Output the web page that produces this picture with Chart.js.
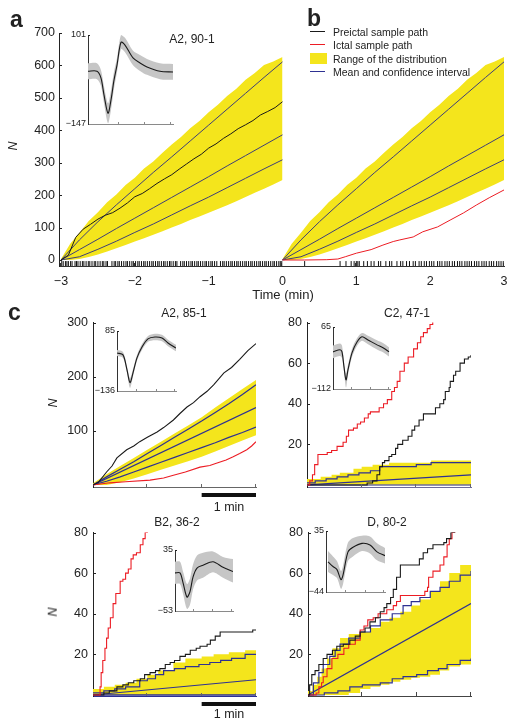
<!DOCTYPE html>
<html><head><meta charset="utf-8">
<script src="https://cdn.jsdelivr.net/npm/chart.js@4.4.1/dist/chart.umd.min.js"></script>
<style>
html,body{margin:0;padding:0;background:#fff;}
body{width:516px;height:726px;position:relative;overflow:hidden;font-family:"Liberation Sans",Arial,sans-serif;color:#222;}
canvas{position:absolute;}
.t{position:absolute;white-space:nowrap;line-height:1;transform:translate(-50%,-50%);z-index:20;}
.lt{position:absolute;white-space:nowrap;line-height:1;transform:translateY(-50%);z-index:20;font-size:10.5px;}
.sw{position:absolute;z-index:20;}
.pl{position:absolute;font-weight:bold;font-size:23px;line-height:1;z-index:20;}
</style></head><body>

<div class="pl" style="left:10px;top:8px">a</div>
<div class="pl" style="left:307px;top:7px">b</div>
<div class="pl" style="left:8px;top:301px">c</div>

<div class="t" style="left:192px;top:39px;font-size:12px">A2, 90-1</div>
<div class="t" style="left:13px;top:146px;font-size:12.5px;font-style:italic;transform:translate(-50%,-50%) rotate(-90deg)">N</div>
<div class="t" style="left:283px;top:294px;font-size:13px">Time (min)</div>

<div class="sw" style="left:310px;top:31px;width:15px;height:1.3px;background:#1a1a1a"></div>
<div class="lt" style="left:333px;top:32px">Preictal sample path</div>
<div class="sw" style="left:310px;top:43.5px;width:15px;height:1.3px;background:#ec1c24"></div>
<div class="lt" style="left:333px;top:44.5px">Ictal sample path</div>
<div class="sw" style="left:310px;top:53px;width:17px;height:11px;background:#f4e51c"></div>
<div class="lt" style="left:333px;top:58.5px">Range of the distribution</div>
<div class="sw" style="left:310px;top:71px;width:15px;height:1.3px;background:#2e3192"></div>
<div class="lt" style="left:333px;top:72px">Mean and confidence interval</div>

<div class="t" style="left:184px;top:313px;font-size:12px">A2, 85-1</div>
<div class="t" style="left:407px;top:313px;font-size:12px">C2, 47-1</div>
<div class="t" style="left:177px;top:522px;font-size:12px">B2, 36-2</div>
<div class="t" style="left:387px;top:522px;font-size:12px">D, 80-2</div>
<div class="t" style="left:53px;top:403px;font-size:12.5px;font-style:italic;transform:translate(-50%,-50%) rotate(-90deg)">N</div>
<div class="t" style="left:53px;top:612px;font-size:12.5px;font-style:italic;transform:translate(-50%,-50%) rotate(-90deg)">N</div>
<div class="t" style="left:229px;top:507px;font-size:12.5px">1 min</div>
<div class="t" style="left:229px;top:714px;font-size:12.5px">1 min</div>

<script>
// ---------------- DATA ----------------
// Panels a/b : spike counts N vs time (min)
const xTicksAB = [-3, -2, -1, 0, 1, 2, 3];
const yTicksA = [0, 100, 200, 300, 400, 500, 600, 700];
// distribution (same for a and b), time since segment start (min)
const distT = [0, 0.25, 0.5, 0.75, 1, 1.25, 1.5, 1.75, 2, 2.25, 2.5, 2.75, 3];
const distUpper = [0, 62, 118, 170, 220, 270, 318, 367, 416, 465, 514, 563, 611];
const distMean = [0, 32, 64, 97, 129, 161, 193, 225, 257, 290, 322, 354, 386];
const distLower = [0, 10, 33, 58, 85, 111, 139, 167, 194, 223, 252, 281, 309];
const bandT = [0, 0.125, 0.25, 0.375, 0.5, 0.625, 0.75, 0.875, 1, 1.125, 1.25, 1.375, 1.5, 1.625, 1.75, 1.875, 2, 2.125, 2.25, 2.375, 2.5, 2.625, 2.75, 2.875, 3];
const bandTop = [3, 50, 84, 120, 147, 178, 202, 231, 254, 282, 304, 331, 356, 379, 406, 429, 456, 479, 506, 528, 556, 577, 601, 612, 626];
const bandBottom = [0, 0, 3, 9, 17, 26, 36, 46, 57, 67, 78, 89, 100, 111, 123, 134, 146, 157, 169, 181, 194, 207, 220, 233, 247];
// panel a preictal sample path
const preT = [-3, -2.9, -2.8, -2.7, -2.6, -2.5, -2.4, -2.3, -2.2, -2.1, -2.0, -1.9, -1.8, -1.7, -1.6, -1.5, -1.4, -1.3, -1.2, -1.1, -1.0, -0.9, -0.8, -0.7, -0.6, -0.5, -0.4, -0.3, -0.2, -0.1, 0];
const preN = [0, 15, 70, 95, 110, 126, 138, 146, 160, 176, 195, 205, 220, 236, 250, 263, 280, 296, 312, 326, 345, 358, 375, 389, 405, 417, 430, 447, 458, 470, 488];
// panel b ictal sample path
const ictT = [0, 0.3, 0.6, 0.75, 0.85, 1.0, 1.2, 1.36, 1.5, 1.59, 1.77, 1.9, 2.1, 2.27, 2.45, 2.63, 2.8, 3.0];
const ictN = [0, 0, 1, 3, 10, 21, 32, 46, 57, 62, 71, 87, 102, 123, 145, 170, 192, 216];
// spike raster (min)
const spikesPre = [-2.99,-2.97,-2.94,-2.92,-2.9,-2.87,-2.85,-2.81,-2.79,-2.77,-2.74,-2.71,-2.69,-2.66,-2.63,-2.61,-2.58,-2.55,-2.53,-2.5,-2.47,-2.44,-2.42,-2.39,-2.37,-2.31,-2.28,-2.26,-2.23,-2.21,-2.18,-2.15,-2.12,-2.1,-2.07,-2.04,-2.02,-1.99,-1.96,-1.94,-1.91,-1.88,-1.86,-1.83,-1.8,-1.77,-1.75,-1.72,-1.69,-1.67,-1.64,-1.61,-1.59,-1.56,-1.53,-1.51,-1.48,-1.45,-1.43,-1.38,-1.35,-1.33,-1.3,-1.27,-1.24,-1.22,-1.19,-1.16,-1.14,-1.11,-1.08,-1.05,-1.03,-1.0,-0.97,-0.95,-0.92,-0.89,-0.84,-0.81,-0.79,-0.76,-0.73,-0.7,-0.68,-0.65,-0.62,-0.6,-0.57,-0.54,-0.51,-0.49,-0.46,-0.43,-0.41,-0.38,-0.35,-0.32,-0.3,-0.27,-0.24,-0.22,-0.19,-0.16,-0.13,-0.11,-0.08,-0.05,-0.03,-0.01];
const spikesPost = [0.3,0.78,0.86,0.93,0.97,1.0,1.02,1.04,1.1,1.15,1.2,1.24,1.3,1.33,1.4,1.45,1.48,1.55,1.6,1.63,1.68,1.72,1.77,1.8,1.85,1.88,1.92,1.95,1.99,2.02,2.05,2.1,2.13,2.16,2.2,2.23,2.26,2.3,2.33,2.37,2.4,2.43,2.47,2.5,2.53,2.56,2.6,2.63,2.66,2.7,2.73,2.76,2.8,2.83,2.86,2.9,2.93,2.96,2.99];

// Inset waveforms (sample index, amplitude)
const wA_x = [0, 9, 13, 16, 20, 23, 26, 29, 33, 37, 45, 52, 59, 72, 85];
const wA_mean = [0, 0, -19, -66, -117, -80, -25, 17, 81, 73, 37, 23, 12, 0, -2];
const wA_hi = [22, 22, 3, -42, -89, -52, -1, 37, 101, 93, 57, 45, 34, 22, 20];
const wA_lo = [-22, -22, -41, -90, -145, -108, -49, -3, 61, 53, 17, 1, -10, -22, -24];

// Panel c1 (A2, 85-1)
const c1BandT = [0, 0.25, 0.5, 0.75, 1, 1.25, 1.5, 1.75, 2, 2.25, 2.5, 2.75, 3];
const c1BandTop = [3, 20, 35, 50, 65, 80, 95, 110, 125, 143, 160, 177, 194];
const c1BandBottom = [0, 0, 5, 12, 20, 28, 36, 44, 52, 62, 72, 82, 92];
const c1Upper = [0, 15, 29, 43, 58, 73, 88, 103, 118, 134, 150, 167, 185];
const c1Lower = [0, 7, 15, 24, 33, 42, 51, 60, 69, 78, 88, 97, 107];
const c1MeanT = [0, 3], c1Mean = [0, 143];
const c1PreT = [0, 0.1, 0.25, 0.35, 0.44, 0.62, 0.75, 0.86, 1.0, 1.18, 1.3, 1.48, 1.6, 1.73, 1.85, 1.97, 2.1, 2.22, 2.41, 2.55, 2.7, 2.85, 3];
const c1PreN = [0, 5, 24, 35, 50, 65, 72, 80, 88, 98, 106, 120, 132, 144, 152, 163, 173, 185, 207, 217, 232, 248, 261];
const c1IctT = [0, 0.31, 0.6, 1.05, 1.3, 1.48, 1.7, 1.97, 2.15, 2.27, 2.45, 2.58, 2.7, 2.83, 2.92, 3];
const c1IctN = [0, 4, 6, 9, 13, 18, 24, 33, 36, 40, 46, 52, 58, 65, 72, 80];
const w1_x = [0, 6, 10, 13, 16, 20, 25, 31, 38, 45, 51, 59];
const w1_mean = [4, -3, -58, -105, -69, -14, 26, 56, 63, 59, 41, 22];
const w1_hi = [15, 8, -45, -88, -55, -3, 37, 67, 75, 71, 53, 34];
const w1_lo = [-7, -14, -71, -125, -83, -25, 15, 45, 51, 47, 29, 10];

// Panel c2 (C2, 47-1)
const c2BandT = [0, 0.1, 0.25, 0.45, 0.6, 0.85, 1.0, 1.2, 1.5, 1.8, 2.1, 2.27, 3];
const c2BandTop = [3, 3, 4, 5, 6, 8, 9, 10, 11, 11, 11, 12, 12];
const c2UpT = [0, 0.15, 0.35, 0.55, 0.75, 0.95, 1.16, 1.33, 1.6, 2.0, 2.27, 3];
const c2Up = [1, 2, 3, 4, 5, 6, 7, 9, 9, 10, 11, 11];
const c2MeanT = [0, 3], c2Mean = [0, 5];
const c2LowT = [0, 3], c2Low = [0, 0];
const c2PreT = [0, 0.5, 0.9, 1.1, 1.2, 1.28, 1.33, 1.38, 1.42, 1.5, 1.55, 1.62, 1.66, 1.75, 1.85, 1.92, 1.97, 2.05, 2.13, 2.27, 2.35, 2.43, 2.5, 2.53, 2.6, 2.62, 2.68, 2.72, 2.8, 2.88, 2.95, 3.0];
const c2PreN = [0, 0, 0, 1, 2, 5, 9, 11, 12, 14, 15, 18, 20, 22, 24, 27, 29, 32, 35, 35, 38, 40, 42, 46, 48, 51, 54, 56, 60, 62, 63, 64];
const c2IctT = [0, 0.05, 0.1, 0.14, 0.2, 0.3, 0.37, 0.45, 0.55, 0.62, 0.66, 0.72, 0.76, 0.85, 0.92, 0.98, 1.05, 1.12, 1.16, 1.25, 1.32, 1.4, 1.47, 1.55, 1.6, 1.65, 1.7, 1.78, 1.85, 1.95, 2.02, 2.08, 2.13, 2.2, 2.25, 2.3];
const c2IctN = [0, 2, 5, 10, 15, 15, 16, 17, 19, 19, 21, 24, 27, 28, 30, 31, 33, 35, 36, 36, 38, 40, 42, 46, 48, 51, 56, 60, 63, 67, 70, 73, 75, 77, 79, 82];
const w2_x = [0, 7, 9, 11, 13, 15, 19, 24, 29, 35, 44, 50, 56];
const w2_mean = [-6, 0, -6, -49, -86, -57, -9, 22, 37, 28, 14, 6, -6];
const w2_hi = [12, 18, 12, -35, -68, -43, 3, 33, 48, 40, 27, 19, 7];
const w2_lo = [-24, -18, -24, -63, -108, -71, -21, 11, 26, 16, 1, -7, -19];

// Panel c3 (B2, 36-2)
const c3BandT = [0, 0.2, 0.4, 0.6, 0.8, 1.0, 1.2, 1.48, 1.7, 2.0, 2.22, 2.5, 2.8, 3];
const c3BandTop = [3, 4, 5, 6, 8, 10, 12, 16, 18, 19, 20, 21, 22, 22.5];
const c3UpT = [0, 0.2, 0.4, 0.6, 0.86, 1.0, 1.15, 1.3, 1.5, 1.7, 1.95, 2.15, 2.35, 2.55, 2.8, 3];
const c3Up = [1, 2, 3, 4, 7, 8, 10, 12, 13, 14, 15, 16, 17, 18, 20, 20];
const c3MeanT = [0, 3], c3Mean = [0, 7.5];
const c3LowT = [0, 3], c3Low = [0, 0];
const c3PreT = [0, 0.2, 0.3, 0.44, 0.55, 0.65, 0.75, 0.87, 0.95, 1.05, 1.15, 1.23, 1.33, 1.42, 1.5, 1.6, 1.7, 1.79, 1.9, 1.97, 2.1, 2.16, 2.25, 2.34, 2.6, 2.94, 3];
const c3PreN = [0, 1, 2, 4, 5, 6, 7, 8, 10, 11, 12, 13, 15, 16, 17, 19, 20, 22, 23, 24, 25, 27, 29, 31, 31, 32, 32];
const c3IctT = [0, 0.1, 0.13, 0.15, 0.18, 0.22, 0.25, 0.28, 0.32, 0.37, 0.42, 0.5, 0.55, 0.6, 0.65, 0.7, 0.74, 0.8, 0.87, 0.92, 0.96, 1.0];
const c3IctN = [0, 0, 4, 11, 17, 23, 28, 33, 38, 45, 50, 56, 57, 60, 62, 67, 69, 70, 74, 77, 80, 84];
const w3_x = [0, 5, 8, 12, 15, 18, 22, 28, 38, 48, 58];
const w3_mean = [2, 2, -12, -33, -25, -4, 9, 13, 18, 10, 4];
const w3_hi = [18, 18, 4, -14, -6, 14, 27, 31, 33, 25, 22];
const w3_lo = [-14, -14, -28, -50, -44, -22, -9, -5, 3, -5, -12];

// Panel c4 (D, 80-2)
const c4BandT = [0, 0.08, 0.17, 0.25, 0.35, 0.45, 0.59, 0.75, 0.96, 1.15, 1.33, 1.5, 1.7, 1.9, 2.06, 2.25, 2.43, 2.6, 2.8, 3];
const c4BandTop = [2, 5, 9, 13, 18, 23, 28, 30, 31, 33, 36, 38, 41, 44, 47, 51, 56, 60, 64, 65];
const c4BandBottom = [0, 0, 0, 0, 0, 0, 0, 1, 3, 4, 5, 6.5, 7.5, 8.5, 9, 10, 12, 14, 15, 15.5];
const c4UpT = [0, 0.1, 0.2, 0.28, 0.4, 0.5, 0.59, 0.75, 0.96, 1.15, 1.33, 1.55, 1.75, 1.9, 2.06, 2.25, 2.43, 2.6, 2.8, 3];
const c4Up = [0, 6, 11, 15, 19, 22, 25, 28, 31, 34, 37, 40, 44, 46, 48, 51, 53, 56, 59, 61];
const c4MeanT = [0, 3], c4Mean = [0, 45];
const c4LowT = [0, 0.3, 0.55, 0.77, 1.0, 1.33, 1.55, 1.75, 2.0, 2.2, 2.4, 2.56, 2.8, 3];
const c4Low = [0, 1, 2, 4, 5, 6, 8, 9, 10, 12, 13, 15, 17, 18];
const c4PreT = [0, 0.03, 0.07, 0.13, 0.2, 0.28, 0.35, 0.45, 0.53, 0.65, 0.77, 0.87, 0.96, 1.05, 1.14, 1.24, 1.33, 1.4, 1.45, 1.52, 1.57, 1.63, 1.7, 2.0, 2.05, 2.12, 2.2, 2.3, 2.5, 2.55, 2.63, 2.7];
const c4PreN = [0, 5, 10, 12, 15, 18, 20, 22, 24, 25, 27, 29, 31, 33, 36, 38, 41, 43, 45, 48, 52, 58, 64, 64, 67, 70, 72, 74, 75, 77, 80, 84];
const c4IctT = [0, 0.15, 0.2, 0.25, 0.28, 0.35, 0.44, 0.55, 0.66, 0.75, 0.87, 0.96, 1.03, 1.1, 1.2, 1.29, 1.45, 1.57, 1.63, 1.7, 2.06, 2.15, 2.2, 2.22, 2.3, 2.43, 2.5, 2.56, 2.6, 2.65, 2.7];
const c4IctN = [0, 1, 4, 6, 9, 13, 18, 20, 23, 25, 27, 32, 34, 37, 38, 40, 42, 44, 46, 49, 49, 51, 53, 58, 61, 64, 68, 74, 77, 80, 84];
const w4_x = [2, 7, 11, 15, 17, 22, 27, 36, 44, 51, 59];
const w4_mean = [-5, -11, -15, -28, -22, 8, 14, 19, 17, 8, 3];
const w4_hi = [9, 2, -4, -17, -10, 20, 26, 29, 28, 19, 13];
const w4_lo = [-18, -22, -26, -40, -34, -4, 2, 9, 6, -3, -7];

// ---------------- DRAWING ----------------
const FONT = '"Liberation Sans", Arial, sans-serif';
Chart.defaults.font.family = FONT;
Chart.defaults.color = '#222';
const YEL = '#f4e51c', BLK = '#1a1a1a', RED = '#ec1c24', SLATE = '#3e3f78', BLUE = '#2e3192', GREY = '#c6c6c6';
const RASTER_Y = -11;

function fmt(v) { return v < 0 ? '\u2212' + Math.abs(v) : String(v); }
function pts(xs, ys, dx) { return xs.map((x, i) => ({ x: x + (dx || 0), y: ys[i] })); }
function ln(xs, ys, color, extra, dx) {
  return Object.assign({ data: pts(xs, ys, dx), borderColor: color, borderWidth: 1, pointRadius: 0,
    fill: false, tension: 0, order: 1 }, extra || {});
}
function band(xs, ys, extra, dx) {
  return Object.assign({ data: pts(xs, ys, dx), borderWidth: 0, borderColor: 'rgba(0,0,0,0)', pointRadius: 0,
    backgroundColor: YEL, tension: 0, order: 10 }, extra || {});
}

function tickPlugin(o) {
  return {
    id: 'inTicks',
    afterDraw(chart) {
      const ctx = chart.ctx, ca = chart.chartArea, sx = chart.scales.x, sy = chart.scales.y;
      ctx.save(); ctx.lineWidth = 1;
      ctx.strokeStyle = o.xColor || '#333';
      (o.x || []).forEach(v => { const p = Math.round(sx.getPixelForValue(v)) - 0.5;
        ctx.beginPath(); ctx.moveTo(p, ca.bottom); ctx.lineTo(p, ca.bottom - (o.xLen || 3)); ctx.stroke(); });
      ctx.strokeStyle = o.yColor || '#222';
      (o.y || []).forEach(v => { const p = Math.round(sy.getPixelForValue(v)) + 0.5;
        ctx.beginPath(); ctx.moveTo(ca.left, p); ctx.lineTo(ca.left + (o.yLen || 3), p); ctx.stroke(); });
      if (o.bar) {
        const a = sx.getPixelForValue(o.bar.from), b = sx.getPixelForValue(o.bar.to);
        ctx.fillStyle = '#111'; ctx.fillRect(a, ca.bottom + o.bar.dy, b - a, o.bar.h);
      }
      ctx.restore();
    }
  };
}

function build(id, box, area, o) {
  const c = document.createElement('canvas');
  c.id = id; c.width = box.w; c.height = box.h;
  Object.assign(c.style, { left: box.x + 'px', top: box.y + 'px', width: box.w + 'px', height: box.h + 'px', zIndex: box.z || 1 });
  document.body.appendChild(c);
  const yw = area.l - box.x, xh = box.y + box.h - area.b;
  return new Chart(c, {
    type: 'line',
    data: { datasets: o.datasets },
    options: {
      responsive: false, animation: false, devicePixelRatio: 1,
      layout: { padding: { left: 0, top: area.t - box.y, right: box.x + box.w - area.r, bottom: 0 } },
      plugins: { legend: { display: false }, tooltip: { enabled: false } },
      scales: {
        x: { type: 'linear', min: o.xmin, max: o.xmax,
          afterFit: s => { s.height = xh; },
          afterBuildTicks: s => { s.ticks = o.xTicks.map(v => ({ value: v })); },
          ticks: { display: !!o.xLabels, padding: o.xPad || 7, maxRotation: 0, autoSkip: false,
            font: { size: o.fs || 12 }, color: '#222', callback: v => fmt(v) },
          grid: { display: true, drawOnChartArea: false, drawTicks: false, color: 'rgba(0,0,0,0)' },
          border: { display: true, color: o.xAxisColor || '#333', width: 1 } },
        y: { type: 'linear', min: o.ymin, max: o.ymax,
          afterFit: s => { s.width = yw; },
          afterBuildTicks: s => { s.ticks = o.yTicks.map(v => ({ value: v })); },
          ticks: { display: o.yLabels !== false, padding: o.yPad || 4, font: { size: o.fs || 12 }, color: '#222',
            callback: v => fmt(v) },
          grid: { display: true, drawOnChartArea: false, drawTicks: false, color: 'rgba(0,0,0,0)' },
          border: { display: true, color: o.yAxisColor || '#222', width: 1 } }
      }
    },
    plugins: [tickPlugin(o.tk || {})]
  });
}

function inset(id, box, area, xs, mean, hi, lo, ymin, ymax, xmax, xt) {
  return build(id, { x: box.x, y: box.y, w: box.w, h: box.h, z: 5 }, area, {
    datasets: [
      ln(xs, mean, '#1a1a1a', { borderWidth: 1.1, order: 1, tension: 0.3 }),
      { data: pts(xs, hi), borderWidth: 0, pointRadius: 0, fill: '+1', backgroundColor: GREY, order: 5, tension: 0.3 },
      { data: pts(xs, lo), borderWidth: 0, pointRadius: 0, fill: false, order: 5, tension: 0.3 }
    ],
    xmin: 0, xmax: xmax, ymin: ymin, ymax: ymax,
    xTicks: [0, xmax], yTicks: [ymin, ymax], xLabels: false, fs: 9, yPad: 2,
    xAxisColor: '#8a8a8a', yAxisColor: '#333',
    tk: { x: xt, xColor: '#8a8a8a', xLen: 2, y: [ymax], yLen: 2 }
  });
}

// ---- panels a + b (shared time axis) ----
build('ab', { x: 0, y: 0, w: 516, h: 300 }, { l: 59, t: 33, r: 504, b: 266 }, {
  datasets: [
    { data: spikesPre.concat(spikesPost).map(t => ({ x: t, y: RASTER_Y })), showLine: false,
      pointStyle: 'line', pointRotation: 90, pointRadius: 2.5, pointBorderColor: '#111',
      pointBorderWidth: 1, order: 0 },
    ln(preT, preN, BLK, { order: 1 }),
    ln(ictT, ictN, RED, { order: 1 }),
    ln(distT, distUpper, SLATE, { order: 2 }, -3),
    ln(distT, distMean, SLATE, { order: 2 }, -3),
    ln(distT, distLower, SLATE, { order: 2 }, -3),
    ln(distT, distUpper, SLATE, { order: 2 }),
    ln(distT, distMean, SLATE, { order: 2 }),
    ln(distT, distLower, SLATE, { order: 2 }),
    band(bandT, bandTop, { fill: '+1' }, -3),
    band(bandT, bandBottom, { fill: false }, -3),
    band(bandT, bandTop, { fill: '+1' }),
    band(bandT, bandBottom, { fill: false })
  ],
  xmin: -3.027, xmax: 3, ymin: -18.5, ymax: 700,
  xTicks: xTicksAB, yTicks: yTicksA, xLabels: true, xPad: 8, yPad: 4, fs: 12.5,
  tk: { x: xTicksAB, y: yTicksA, xLen: 3, yLen: 3 }
});
inset('insA', { x: 58, y: 25, w: 122, h: 107 }, { l: 88, t: 35, r: 173, b: 124 },
  wA_x, wA_mean, wA_hi, wA_lo, -147, 101, 85, [31, 57, 83]);

// ---- panel c1 ----
build('c1', { x: 55, y: 310, w: 211, h: 195 }, { l: 93, t: 321, r: 256, b: 487 }, {
  datasets: [
    ln(c1PreT, c1PreN, BLK, { borderWidth: 1.1 }),
    ln(c1IctT, c1IctN, RED, { borderWidth: 1.1 }),
    ln(c1BandT, c1Upper, BLUE, { order: 2, borderWidth: 1.2 }),
    ln(c1MeanT, c1Mean, BLUE, { order: 2, borderWidth: 1.2 }),
    ln(c1BandT, c1Lower, BLUE, { order: 2, borderWidth: 1.2 }),
    band(c1BandT, c1BandTop, { fill: '+1' }),
    band(c1BandT, c1BandBottom, { fill: false })
  ],
  xmin: 0, xmax: 3, ymin: -3.7, ymax: 300,
  xTicks: [0, 1, 2, 3], yTicks: [100, 200, 300], xLabels: false, fs: 12.5, yPad: 5,
  xAxisColor: '#666',
  tk: { x: [1, 2, 3], xColor: '#666', y: [100, 200, 300], bar: { from: 2, to: 3, dy: 6, h: 4 } }
});
inset('insC1', { x: 90, y: 322, w: 92, h: 77 }, { l: 117, t: 331, r: 176, b: 391 },
  w1_x, w1_mean, w1_hi, w1_lo, -136, 85, 59, [20, 40, 58]);

// ---- panel c2 ----
build('c2', { x: 265, y: 310, w: 216, h: 195 }, { l: 307, t: 321, r: 471, b: 487 }, {
  datasets: [
    ln(c2IctT, c2IctN, RED, { stepped: true, borderWidth: 1.1 }),
    ln(c2PreT, c2PreN, BLK, { stepped: true, borderWidth: 1.1 }),
    ln(c2UpT, c2Up, BLUE, { order: 2, stepped: true, borderWidth: 1.2 }),
    ln(c2MeanT, c2Mean, BLUE, { order: 2, borderWidth: 1.2 }),
    ln(c2LowT, c2Low, '#6c6c9c', { order: 2, borderWidth: 1.5 }),
    band(c2BandT, c2BandTop, { fill: 'origin', stepped: true })
  ],
  xmin: 0, xmax: 3, ymin: -1, ymax: 80,
  xTicks: [0, 1, 2, 3], yTicks: [20, 40, 60, 80], xLabels: false, fs: 12.5, yPad: 5,
  xAxisColor: '#6c6c9c',
  tk: { x: [1, 2, 3], xColor: '#666', y: [20, 40, 60, 80] }
});
inset('insC2', { x: 303, y: 318, w: 92, h: 79 }, { l: 333, t: 327, r: 390, b: 389 },
  w2_x, w2_mean, w2_hi, w2_lo, -112, 65, 57, [19, 38, 56]);

// ---- panel c3 ----
build('c3', { x: 55, y: 520, w: 211, h: 200 }, { l: 93, t: 530, r: 256, b: 696 }, {
  datasets: [
    ln(c3IctT, c3IctN, RED, { stepped: true, borderWidth: 1.1 }),
    ln(c3PreT, c3PreN, BLK, { stepped: true, borderWidth: 1.1 }),
    ln(c3UpT, c3Up, BLUE, { order: 2, stepped: true, borderWidth: 1.2 }),
    ln(c3MeanT, c3Mean, BLUE, { order: 2, borderWidth: 1.2 }),
    ln(c3LowT, c3Low, '#2e3192', { order: 2, borderWidth: 1.5 }),
    band(c3BandT, c3BandTop, { fill: 'origin', stepped: true })
  ],
  xmin: 0, xmax: 3, ymin: -0.5, ymax: 80,
  xTicks: [0, 1, 2, 3], yTicks: [20, 40, 60, 80], xLabels: false, fs: 12.5, yPad: 5,
  xAxisColor: '#2e3192',
  tk: { x: [1, 2, 3], xColor: '#666', y: [20, 40, 60, 80], bar: { from: 2, to: 3, dy: 6, h: 4 } }
});
inset('insC3', { x: 148, y: 541, w: 90, h: 78 }, { l: 175, t: 550, r: 233, b: 611 },
  w3_x, w3_mean, w3_hi, w3_lo, -53, 35, 58, [19, 38, 57]);

// ---- panel c4 ----
build('c4', { x: 265, y: 520, w: 216, h: 200 }, { l: 308, t: 530, r: 471, b: 696 }, {
  datasets: [
    ln(c4PreT, c4PreN, BLK, { stepped: true, borderWidth: 1.1 }),
    ln(c4IctT, c4IctN, RED, { stepped: true, borderWidth: 1.1 }),
    ln(c4UpT, c4Up, BLUE, { order: 2, stepped: true, borderWidth: 1.2 }),
    ln(c4MeanT, c4Mean, BLUE, { order: 2, borderWidth: 1.2 }),
    ln(c4LowT, c4Low, BLUE, { order: 2, stepped: true, borderWidth: 1.2 }),
    band(c4BandT, c4BandTop, { fill: '+1', stepped: true }),
    band(c4BandT, c4BandBottom, { fill: false, stepped: true })
  ],
  xmin: 0, xmax: 3, ymin: -0.5, ymax: 80,
  xTicks: [0, 1, 2, 3], yTicks: [20, 40, 60, 80], xLabels: false, fs: 12.5, yPad: 5,
  xAxisColor: '#444',
  tk: { x: [1, 2, 3], xColor: '#444', xLen: 4, y: [20, 40, 60, 80] }
});
inset('insC4', { x: 298, y: 522, w: 92, h: 78 }, { l: 326, t: 531, r: 385, b: 592 },
  w4_x, w4_mean, w4_hi, w4_lo, -44, 35, 59, [20, 40, 58]);
</script>
</body></html>
